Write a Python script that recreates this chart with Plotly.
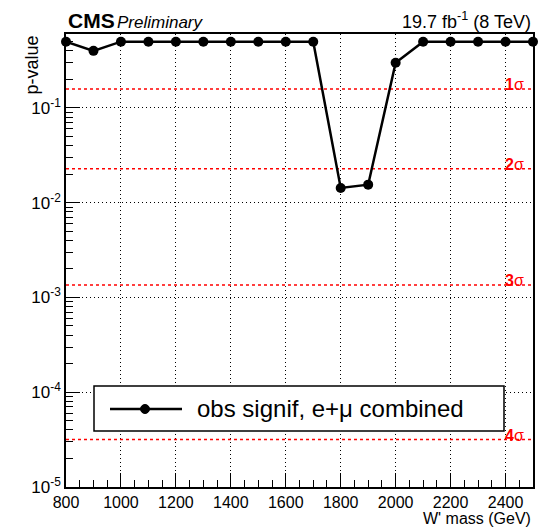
import plotly.graph_objects as go
import numpy as np

mass = [800, 900, 1000, 1100, 1200, 1300, 1400, 1500, 1600, 1700, 1800, 1900, 2000, 2100, 2200, 2300, 2400, 2500]
pval = [0.5, 0.40, 0.5, 0.5, 0.5, 0.5, 0.5, 0.5, 0.5, 0.5, 0.0143, 0.0155, 0.30, 0.5, 0.5, 0.5, 0.5, 0.5]
sigma_labels = ["1\u03c3", "2\u03c3", "3\u03c3", "4\u03c3"]
sigma_p = [0.1587, 0.02275, 0.00135, 3.17e-5]
xtick_vals = [800, 1000, 1200, 1400, 1600, 1800, 2000, 2200, 2400]
ytick_vals = [1e-5, 1e-4, 1e-3, 1e-2, 1e-1]
ytick_text = ["10<sup>-5</sup>", "10<sup>-4</sup>", "10<sup>-3</sup>", "10<sup>-2</sup>", "10<sup>-1</sup>"]
yminor_vals = [m * 10.0 ** e for e in range(-5, 0) for m in range(2, 10)]

FONT = "Liberation Sans, Arial, Helvetica, sans-serif"
fig = go.Figure()

for p in sigma_p:
    fig.add_trace(go.Scatter(x=[800, 2500], y=[p, p], mode="lines",
                             line=dict(color="#ff0000", width=1.5, dash="3px,3px"),
                             showlegend=False, hoverinfo="skip"))

fig.add_trace(go.Scatter(x=mass, y=pval, mode="lines+markers",
                         line=dict(color="black", width=2.5),
                         marker=dict(color="black", size=10),
                         showlegend=False, cliponaxis=False))

for lab, p in zip(sigma_labels, sigma_p):
    fig.add_annotation(x=2400, y=np.log10(p), text=f"<b>{lab[0]}</b>{lab[1]}", showarrow=False,
                       xanchor="left", yanchor="bottom", xshift=-3, yshift=-6,
                       font=dict(color="#ff0000", size=16, family=FONT))

W, H = 550, 529
L, R, T, B = 66, 17, 34, 42
pw, ph = W - L - R, H - T - B
def px(x): return (x - L) / pw
def py(y): return (H - B - y) / ph

# legend box
fig.add_shape(type="rect", xref="paper", yref="paper", x0=px(94), x1=px(504), y0=py(431), y1=py(386),
              line=dict(color="black", width=1.5), fillcolor="white", layer="above")
fig.add_shape(type="line", xref="paper", yref="paper", x0=px(110), x1=px(182), y0=py(409), y1=py(409),
              line=dict(color="black", width=2.5), layer="above")
fig.add_shape(type="circle", xref="paper", yref="paper", x0=px(140.5), x1=px(149.5), y0=py(413.5), y1=py(404.5),
              line=dict(color="black", width=1), fillcolor="black", layer="above")
fig.add_annotation(xref="paper", yref="paper", x=px(195), y=py(408), text="obs signif, e+\u03bc combined",
                   showarrow=False, xanchor="left", yanchor="middle", font=dict(size=24, color="black", family=FONT))

fig.add_annotation(xref="paper", yref="paper", x=0, y=1, text="<b>CMS</b>", showarrow=False,
                   xanchor="left", yanchor="bottom", font=dict(size=21, color="black", family=FONT))
fig.add_annotation(xref="paper", yref="paper", x=px(115), y=1, text="<i>Preliminary</i>", showarrow=False,
                   xanchor="left", yanchor="bottom", font=dict(size=17, color="black", family=FONT))
fig.add_annotation(xref="paper", yref="paper", x=1, y=1, text="19.7 fb<sup>-1</sup> (8 TeV)", showarrow=False,
                   xanchor="right", yanchor="bottom", font=dict(size=18, color="black", family=FONT))
fig.add_annotation(xref="paper", yref="paper", x=1, y=py(529), text="W' mass (GeV)", showarrow=False,
                   xanchor="right", yanchor="bottom", font=dict(size=16, color="black", family=FONT))
fig.add_annotation(xref="paper", yref="paper", x=px(31), y=1, text="p-value", showarrow=False, textangle=-90,
                   xanchor="center", yanchor="top", font=dict(size=18, color="black", family=FONT))

fig.update_xaxes(range=[800, 2500], tickvals=xtick_vals, ticks="inside", ticklen=14, tickcolor="black",
                 showline=True, linecolor="black", linewidth=1.5, mirror=True,
                 showgrid=True, gridcolor="black", griddash="1px,3px", gridwidth=1,
                 minor=dict(dtick=50, ticks="inside", ticklen=7, tickcolor="black", showgrid=False),
                 tickfont=dict(size=16, family=FONT, color="black"), zeroline=False)
fig.update_yaxes(type="log", range=[-5, -0.22], tickvals=ytick_vals, ticktext=ytick_text,
                 ticks="inside", ticklen=14, tickcolor="black",
                 showline=True, linecolor="black", linewidth=1.5, mirror=True,
                 showgrid=True, gridcolor="black", griddash="1px,3px", gridwidth=1,
                 minor=dict(tickvals=yminor_vals, ticks="inside", ticklen=7, tickcolor="black", showgrid=False),
                 tickfont=dict(size=17, family=FONT, color="black"), zeroline=False)

fig.update_layout(width=W, height=H, margin=dict(l=L, r=R, t=T, b=B, pad=0),
                  plot_bgcolor="white", paper_bgcolor="white", showlegend=False)
fig.write_html("out.html")
